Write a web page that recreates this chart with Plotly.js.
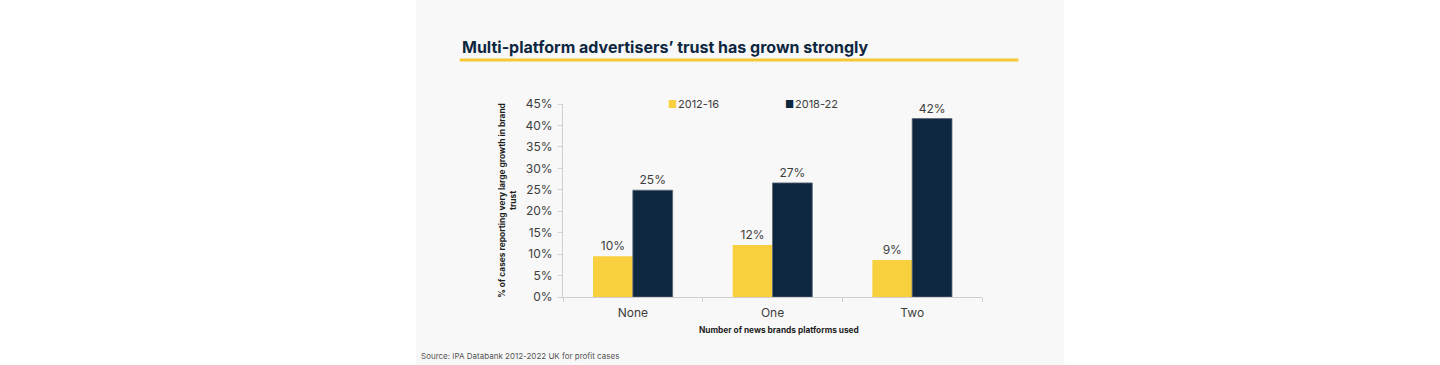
<!DOCTYPE html>
<html>
<head>
<meta charset="utf-8">
<script src="https://cdn.plot.ly/plotly-3.0.1.min.js"></script>
<style>html,body{margin:0;padding:0;background:#fff;}#chart{width:1440px;height:365px;}</style>
</head>
<body>
<div id="chart"></div>
<script>
const categories = ["None", "One", "Two"];
const seriesNames = ["2012-16", "2018-22"];
const values2012 = [9.5, 12.1, 8.6];
const values2018 = [24.9, 26.6, 41.6];
const labels2012 = ["10%", "12%", "9%"];
const labels2018 = ["25%", "27%", "42%"];
const yTickVals = [0, 5, 10, 15, 20, 25, 30, 35, 40, 45];
const yTickText = ["0%", "5%", "10%", "15%", "20%", "25%", "30%", "35%", "40%", "45%"];

const YELLOW = "#F8D03E";
const NAVY = "#0E2741";
const FONT = "Inter, 'Open Sans', sans-serif";

const traces = [
  {
    type: "bar", name: seriesNames[0], x: categories, y: values2012,
    text: labels2012, textposition: "outside", cliponaxis: false,
    textfont: {family: FONT, size: 12, color: "#3d3d3d"},
    marker: {color: YELLOW, line: {width: 0}}, showlegend: false, hoverinfo: "skip"
  },
  {
    type: "bar", name: seriesNames[1], x: categories, y: values2018,
    text: labels2018, textposition: "outside", cliponaxis: false,
    textfont: {family: FONT, size: 12, color: "#3d3d3d"},
    marker: {color: NAVY, line: {width: 0.8, color: "#5a6775"}}, showlegend: false, hoverinfo: "skip"
  }
];

const layout = {
  width: 1440, height: 365,
  paper_bgcolor: "#ffffff", plot_bgcolor: "rgba(0,0,0,0)",
  margin: {l: 562.5, r: 457.5, t: 104, b: 68, pad: 0},
  barmode: "group", bargap: 0.43, bargroupgap: 0,
  font: {family: FONT, size: 12, color: "#3d3d3d"},
  xaxis: {
    type: "category", range: [-0.5, 2.5], tickson: "boundaries",
    showline: true, linecolor: "#cfcfcf", linewidth: 1,
    ticks: "outside", ticklen: 4, tickcolor: "#cfcfcf",
    ticklabelstandoff: 5,
    showgrid: false, zeroline: false,
    tickfont: {family: FONT, size: 12, color: "#3d3d3d"}
  },
  yaxis: {
    range: [0, 45], tickvals: yTickVals, ticktext: yTickText,
    showline: true, linecolor: "#cfcfcf", linewidth: 1,
    ticks: "outside", ticklen: 4, tickcolor: "#cfcfcf",
    ticklabelstandoff: 3,
    showgrid: false, zeroline: false,
    tickfont: {family: FONT, size: 12, color: "#3d3d3d"}
  },
  shapes: [
    {type: "rect", xref: "paper", yref: "paper", layer: "below",
     x0: -147.5/420, x1: 502.5/420, y0: -68/193, y1: 297/193,
     fillcolor: "#f8f8f8", line: {width: 0}},
    {type: "rect", xref: "paper", yref: "paper", layer: "above",
     x0: -103.5/420, x1: 456.5/420, y0: (297-61.5)/193, y1: (297-58.5)/193,
     fillcolor: "#F5C935", line: {width: 0}}
  ],
  annotations: [
    {xref: "paper", yref: "paper", x: -103.5/420, y: (297-47)/193, xanchor: "left", yanchor: "middle",
     text: "<b>Multi-platform advertisers’ trust has grown strongly</b>", showarrow: false,
     font: {family: FONT, size: 16, color: "#0E2741"}},
    {xref: "paper", yref: "paper", x: (666-562.5)/420, y: (297-104)/193, xanchor: "left", yanchor: "middle",
     text: "<span style='color:" + YELLOW + ";font-size:10px'>■</span><span style='font-size:3px'> </span>" + seriesNames[0], showarrow: false,
     font: {family: FONT, size: 11, color: "#3d3d3d"}},
    {xref: "paper", yref: "paper", x: (783-562.5)/420, y: (297-104)/193, xanchor: "left", yanchor: "middle",
     text: "<span style='color:" + NAVY + ";font-size:10px'>■</span><span style='font-size:3px'> </span>" + seriesNames[1], showarrow: false,
     font: {family: FONT, size: 11, color: "#3d3d3d"}},
    {xref: "paper", yref: "paper", x: (506-562.5)/420, y: (297-200)/193, xanchor: "center", yanchor: "middle",
     textangle: -90,
     text: "<b>% of cases reporting very large growth in brand<br>trust</b>", showarrow: false,
     font: {family: FONT, size: 8.4, color: "#1e1e1e"}},
    {xref: "paper", yref: "paper", x: (779-562.5)/420, y: (297-330)/193, xanchor: "center", yanchor: "middle",
     text: "<b>Number of news brands platforms used</b>", showarrow: false,
     font: {family: FONT, size: 8.3, color: "#1e1e1e"}},
    {xref: "paper", yref: "paper", x: (418-562.5)/420, y: (297-356)/193, xanchor: "left", yanchor: "middle",
     text: "Source: IPA Databank 2012-2022 UK for profit cases", showarrow: false,
     font: {family: FONT, size: 8, color: "#555555"}}
  ]
};

Plotly.newPlot("chart", traces, layout, {staticPlot: true, displayModeBar: false});
</script>
</body>
</html>
